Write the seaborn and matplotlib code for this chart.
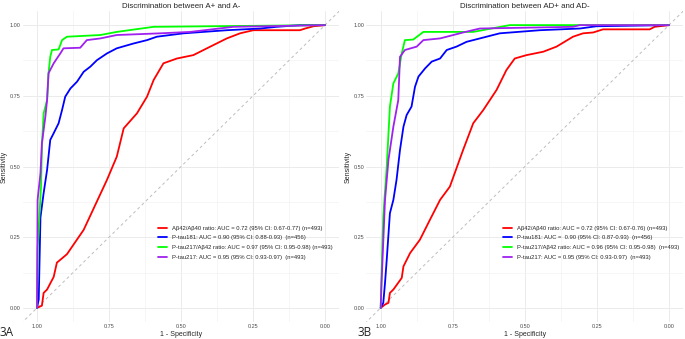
import numpy as np
import pandas as pd
import matplotlib
matplotlib.use('Agg')
import matplotlib.pyplot as plt
import seaborn as sns

# ROC points: (specificity, sensitivity)
# Panel A: A+ vs A-
a_ab_spec = [1, 0.983, 0.977, 0.965, 0.942, 0.931, 0.896, 0.838, 0.757, 0.723, 0.699, 0.653,
             0.618, 0.595, 0.561, 0.514, 0.457, 0.410, 0.341, 0.295, 0.249, 0.087, 0.069, 0.040, 0]
a_ab_sens = [0, 0.008, 0.053, 0.065, 0.11, 0.16, 0.19, 0.276, 0.453, 0.535, 0.635, 0.688,
             0.747, 0.806, 0.865, 0.882, 0.894, 0.918, 0.953, 0.971, 0.982, 0.982, 0.988, 0.996, 1]
a_181_spec = [1, 0.994, 0.988, 0.977, 0.965, 0.954, 0.942, 0.925, 0.913, 0.902, 0.884, 0.861,
              0.838, 0.815, 0.792, 0.757, 0.723, 0.665, 0.618, 0.584, 0.491, 0.341, 0.225, 0.168, 0.087, 0]
a_181_sens = [0, 0.03, 0.32, 0.406, 0.488, 0.594, 0.618, 0.653, 0.70, 0.747, 0.776, 0.80,
              0.835, 0.853, 0.876, 0.90, 0.918, 0.935, 0.947, 0.959, 0.971, 0.982, 0.988, 0.994, 1.0, 1]
a_r217_spec = [1, 0.998, 0.992, 0.986, 0.983, 0.977, 0.965, 0.96, 0.954, 0.948, 0.925, 0.913,
               0.896, 0.78, 0.723, 0.595, 0]
a_r217_sens = [0, 0.206, 0.32, 0.43, 0.57, 0.688, 0.735, 0.83, 0.888, 0.912, 0.914, 0.947,
               0.959, 0.965, 0.976, 0.994, 1]
a_217_spec = [1, 0.998, 0.988, 0.983, 0.971, 0.965, 0.96, 0.942, 0.931, 0.919, 0.908, 0.85,
              0.827, 0.78, 0.723, 0.572, 0.468, 0.318, 0]
a_217_sens = [0, 0.382, 0.476, 0.582, 0.676, 0.735, 0.83, 0.865, 0.882, 0.90, 0.918, 0.92,
              0.947, 0.953, 0.965, 0.971, 0.976, 0.994, 1]

# Panel B: AD+ vs AD-
b_ab_spec = [1, 0.985, 0.973, 0.968, 0.956, 0.927, 0.921, 0.898, 0.864, 0.829, 0.794, 0.76,
             0.714, 0.679, 0.644, 0.598, 0.564, 0.535, 0.494, 0.436, 0.39, 0.333, 0.298, 0.263,
             0.229, 0.067, 0.05, 0]
b_ab_sens = [0, 0.012, 0.018, 0.053, 0.065, 0.106, 0.147, 0.194, 0.241, 0.312, 0.382, 0.429,
             0.559, 0.653, 0.70, 0.771, 0.841, 0.882, 0.894, 0.906, 0.924, 0.959, 0.971, 0.974,
             0.985, 0.985, 0.994, 1]
b_181_spec = [1, 0.991, 0.985, 0.979, 0.968, 0.956, 0.945, 0.933, 0.921, 0.91, 0.893, 0.881,
              0.869, 0.846, 0.823, 0.794, 0.771, 0.737, 0.702, 0.656, 0.587, 0.448, 0.309, 0.252, 0]
b_181_sens = [0, 0.018, 0.088, 0.171, 0.335, 0.382, 0.453, 0.559, 0.641, 0.682, 0.712, 0.782,
              0.818, 0.847, 0.871, 0.882, 0.912, 0.924, 0.941, 0.953, 0.971, 0.982, 0.988, 0.996, 1]
b_r217_spec = [1, 0.997, 0.991, 0.979, 0.968, 0.956, 0.939, 0.927, 0.916, 0.887, 0.852, 0.679, 0.552, 0]
b_r217_sens = [0, 0.124, 0.324, 0.50, 0.712, 0.794, 0.829, 0.90, 0.947, 0.949, 0.976, 0.976, 1.0, 1]
b_217_spec = [1, 0.997, 0.985, 0.973, 0.956, 0.939, 0.933, 0.916, 0.875, 0.852, 0.794, 0.714,
              0.656, 0.333, 0.309, 0]
b_217_sens = [0, 0.088, 0.382, 0.524, 0.641, 0.735, 0.888, 0.912, 0.924, 0.947, 0.953, 0.974,
              0.988, 0.994, 1.0, 1]

a_labels = ['Aβ42/Aβ40 ratio: AUC = 0.72 (95% CI: 0.67-0.77) (n=493)',
            'P-tau181: AUC = 0.90 (95% CI: 0.88-0.93)  (n=456)',
            'P-tau217/Aβ42 ratio: AUC = 0.97 (95% CI: 0.95-0.98) (n=493)',
            'P-tau217: AUC = 0.95 (95% CI: 0.93-0.97)  (n=493)']
b_labels = ['Aβ42/Aβ40 ratio: AUC = 0.72 (95% CI: 0.67-0.76) (n=493)',
            'P-tau181: AUC =  0.90 (95% CI: 0.87-0.93)  (n=456)',
            'P-tau217/Aβ42 ratio: AUC = 0.96 (95% CI: 0.95-0.98)  (n=493)',
            'P-tau217: AUC = 0.95 (95% CI: 0.93-0.97)  (n=493)']
colors = ['#ff0000', '#0000ff', '#00ff00', '#a020f0']
ticks = [1.00, 0.75, 0.50, 0.25, 0.00]


def make_df(specs, senss, labels):
    frames = []
    for sp, se, lab in zip(specs, senss, labels):
        frames.append(pd.DataFrame({'spec': sp, 'sens': se, 'marker': lab}))
    return pd.concat(frames, ignore_index=True)


def draw_panel(ax, df, labels, title, leg_x):
    ax.axline((1, 0), (0, 1), color='#bdbdbd', lw=0.7, ls=(0, (3, 3)), zorder=1)
    sns.lineplot(data=df, x='spec', y='sens', hue='marker', hue_order=labels,
                 palette=colors, sort=False, estimator=None, lw=1.3, ax=ax, zorder=3)
    ax.set_xlim(1.05, -0.05)
    ax.set_ylim(-0.05, 1.05)
    ax.set_xticks(ticks)
    ax.set_yticks(ticks)
    ax.set_xticklabels([f'{t:.2f}' for t in ticks])
    ax.set_yticklabels([f'{t:.2f}' for t in ticks])
    ax.set_xticks([0.875, 0.625, 0.375, 0.125], minor=True)
    ax.set_yticks([0.875, 0.625, 0.375, 0.125], minor=True)
    ax.grid(True, which='major', color='#ebebeb', lw=0.7)
    ax.grid(True, which='minor', color='#f3f3f3', lw=0.5)
    ax.tick_params(which='both', length=0, labelsize=4.0, labelcolor='#4d4d4d', pad=1.5)
    for s in ax.spines.values():
        s.set_visible(False)
    ax.set_xlabel('1 - Specificity', fontsize=5, labelpad=1.5)
    ax.set_ylabel('Sensitivity', fontsize=5, labelpad=1.5)
    ax.set_title(title, fontsize=5.7, pad=2)
    ax.set_axisbelow(True)
    leg = ax.legend(loc='upper left', bbox_to_anchor=(leg_x, 0.31), frameon=False,
                    fontsize=4.2, handlelength=1.55, handletextpad=0.85, labelspacing=0.8,
                    borderpad=0, borderaxespad=0, title=None)
    for line in leg.get_lines():
        line.set_linewidth(1.3)


sns.set_theme(style='white')
plt.rcParams['font.family'] = ['Liberation Sans', 'DejaVu Sans']

fig = plt.figure(figsize=(6.85, 3.39), dpi=100)
ax1 = fig.add_axes([0.033, 0.050, 0.4625, 0.9176])
ax2 = fig.add_axes([0.5347, 0.050, 0.4630, 0.9176])

df_a = make_df([a_ab_spec, a_181_spec, a_r217_spec, a_217_spec],
               [a_ab_sens, a_181_sens, a_r217_sens, a_217_sens], a_labels)
df_b = make_df([b_ab_spec, b_181_spec, b_r217_spec, b_217_spec],
               [b_ab_sens, b_181_sens, b_r217_sens, b_217_sens], b_labels)

draw_panel(ax1, df_a, a_labels, 'Discrimination between A+ and A-', 0.427)
draw_panel(ax2, df_b, b_labels, 'Discrimination between AD+ and AD-', 0.431)

fig.text(0.0, 0.01, '3A', fontsize=8.5, family=['Open Sans', 'DejaVu Sans'])
fig.text(357 / 685, 0.01, '3B', fontsize=8.5, family=['Open Sans', 'DejaVu Sans'])

fig.savefig('out.png', dpi=100)
